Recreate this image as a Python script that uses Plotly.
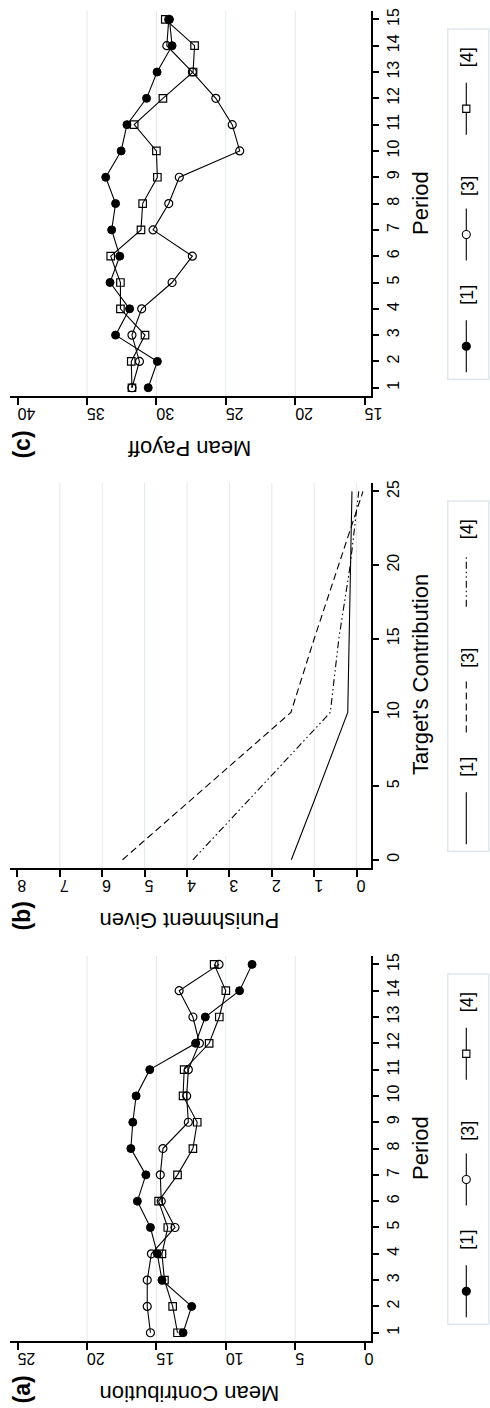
import plotly.graph_objects as go

# ---------------- data ----------------
periods = list(range(1, 16))

# Panel (a): Mean Contribution by period
contrib_1 = [13.08, 12.46, 14.60, 14.93, 15.43, 16.37, 15.76, 16.84, 16.70, 16.46, 15.48, 12.18, 11.48, 9.01, 8.11]
contrib_3 = [15.43, 15.66, 15.66, 15.36, 13.66, 14.65, 14.72, 14.53, 12.70, 12.82, 12.70, 11.90, 12.37, 13.36, 10.49]
contrib_4 = [13.48, 13.83, 14.42, 14.60, 14.18, 14.84, 13.48, 12.37, 12.06, 13.08, 13.00, 11.20, 10.47, 10.00, 10.84]

# Panel (b): Punishment Given vs Target's Contribution
target_1 = [0, 4, 10, 15, 20, 25]
punish_1 = [1.54, 1.00, 0.21, 0.18, 0.15, 0.11]
target_3 = [0, 10, 15, 20, 25]
punish_3 = [5.52, 1.55, 1.00, 0.42, -0.15]
target_4 = [0, 10, 15, 20, 25]
punish_4 = [3.86, 0.62, 0.42, 0.15, -0.05]

# Panel (c): Mean Payoff by period
payoff_1 = [30.59, 29.93, 32.94, 31.93, 33.34, 32.64, 33.22, 32.94, 33.65, 32.54, 32.12, 30.71, 29.95, 28.87, 29.06]
payoff_3 = [31.76, 31.22, 31.76, 31.06, 28.87, 27.41, 30.24, 29.11, 28.35, 24.00, 24.54, 25.72, 27.41, 29.25, 29.11]
payoff_4 = [31.76, 31.81, 30.82, 32.59, 32.59, 33.29, 31.11, 30.99, 29.93, 30.00, 31.60, 29.53, 27.36, 27.25, 29.36]

series_names = ["[1]", "[3]", "[4]"]
contrib_ticks = [0, 5, 10, 15, 20, 25]
punish_ticks = [0, 1, 2, 3, 4, 5, 6, 7, 8]
payoff_ticks = [15, 20, 25, 30, 35, 40]
target_ticks = [0, 5, 10, 15, 20, 25]

# ---------------- layout helpers ----------------
W, H = 490, 1408
FONT = "Liberation Sans, Arial, Helvetica, sans-serif"
GRID = "#dfe8ee"


def X(px):
    return px / W


def Y(py):
    return 1 - py / H


fig = go.Figure()

# panel: (axis suffix, pixel offset, label, x title, y title, x range, y range, x ticks, y ticks, grid values, kind)
panels = [
    ("", 0, "(c)", "Mean Payoff", "Period", [40.56, 14.51], [0.68, 15.32], payoff_ticks, periods, [20, 25, 30, 35], "marker"),
    ("2", 473, "(b)", "Punishment Given", "Target's Contribution", [8.18, -0.35], [-0.57, 25.57], punish_ticks, target_ticks, [0, 1, 2, 3, 4, 5, 6, 7], "line"),
    ("3", 947, "(a)", "Mean Contribution", "Period", [25.56, -0.49], [0.68, 15.32], contrib_ticks, periods, [5, 10, 15, 20], "marker"),
]

marker_styles = [
    dict(symbol="circle", size=8, color="black", line=dict(color="black", width=1)),
    dict(symbol="circle-open", size=8, color="black", line=dict(color="black", width=1.2)),
    dict(symbol="square-open", size=7.5, color="black", line=dict(color="black", width=1.2)),
]
dash_styles = ["solid", "7px,4px", "7px,3px,1.5px,3px,1.5px,3px"]

panel_data = {
    "(c)": [(periods, payoff_1), (periods, payoff_3), (periods, payoff_4)],
    "(b)": [(target_1, punish_1), (target_3, punish_3), (target_4, punish_4)],
    "(a)": [(periods, contrib_1), (periods, contrib_3), (periods, contrib_4)],
}

shapes = []
annotations = []
layout_axes = {}

for suf, off, label, xtitle, ytitle, xr, yr, xt, yt, gridvals, kind in panels:
    xa = "x" + suf
    ya = "y" + suf
    dom_y = [Y(off + 394), Y(off + 8)]
    layout_axes["xaxis" + suf] = dict(
        domain=[X(10), X(380)], range=xr, anchor=ya,
        tickvals=xt, ticktext=[str(v) for v in xt], tickangle=180,
        showline=True, linecolor="black", linewidth=2,
        ticks="outside", ticklen=7, tickwidth=1.5, tickcolor="black",
        showgrid=False, zeroline=False,
        tickfont=dict(family=FONT, size=16, color="black"),
    )
    layout_axes["yaxis" + suf] = dict(
        domain=dom_y, range=yr, anchor=xa, side="right",
        tickvals=yt, ticktext=[str(v) for v in yt], tickangle=-90,
        showline=True, linecolor="black", linewidth=2,
        ticks="outside", ticklen=6, tickwidth=1.5, tickcolor="black",
        showgrid=False, zeroline=False,
        tickfont=dict(family=FONT, size=16, color="black"),
    )
    # gridlines
    for g in gridvals:
        shapes.append(dict(type="line", xref=xa, yref=ya + " domain", x0=g, x1=g, y0=0, y1=1,
                           line=dict(color=GRID, width=1), layer="below"))
    # data
    for i, (xs, ys) in enumerate(panel_data[label]):
        if kind == "marker":
            fig.add_trace(go.Scatter(
                x=ys, y=xs, xaxis=xa, yaxis=ya, mode="lines+markers",
                line=dict(color="black", width=1.1),
                marker=marker_styles[i], name=series_names[i], showlegend=False,
            ))
        else:
            fig.add_trace(go.Scatter(
                x=ys, y=xs, xaxis=xa, yaxis=ya, mode="lines",
                line=dict(color="black", width=1.1, dash=dash_styles[i]),
                name=series_names[i], showlegend=False,
            ))
    # titles
    annotations.append(dict(text=xtitle, x=X(194), y=Y(off + 447), xref="paper", yref="paper",
                            showarrow=False, textangle=180, xanchor="center", yanchor="middle",
                            font=dict(family=FONT, size=22, color="black")))
    annotations.append(dict(text=ytitle, x=X(430), y=Y(off + 200), xref="paper", yref="paper",
                            showarrow=False, textangle=-90, xanchor="center", yanchor="middle",
                            font=dict(family=FONT, size=22, color="black")))
    annotations.append(dict(text="<b>" + label + "</b>", x=X(23), y=Y(off + 442), xref="paper", yref="paper",
                            showarrow=False, textangle=-90, xanchor="center", yanchor="middle",
                            font=dict(family=FONT, size=23, color="black")))
    # legend box
    shapes.append(dict(type="rect", xref="paper", yref="paper", x0=X(458), x1=X(500),
                       y0=Y(off + 377), y1=Y(off + 26), line=dict(color=GRID, width=1.5),
                       fillcolor="white", layer="below"))
    key_pos = [(344, 292), (232, 183), (106, 54)]
    for i, (mpos, tpos) in enumerate(key_pos):
        shapes.append(dict(type="line", xref="paper", yref="paper", x0=X(477), x1=X(477),
                           y0=Y(off + mpos + 26), y1=Y(off + mpos - 26),
                           line=dict(color="black", width=1.1,
                                     dash=(dash_styles[i] if kind == "line" else "solid"))))
        if kind == "marker":
            r = 4 if i < 2 else 3.6
            shapes.append(dict(type="circle" if i < 2 else "rect", xref="paper", yref="paper",
                               xsizemode="pixel", ysizemode="pixel",
                               xanchor=X(477), yanchor=Y(off + mpos),
                               x0=-r, x1=r, y0=-r, y1=r,
                               fillcolor="black" if i == 0 else "white",
                               line=dict(color="black", width=1.1)))
        annotations.append(dict(text=series_names[i], x=X(478), y=Y(off + tpos), xref="paper", yref="paper",
                                showarrow=False, textangle=-90, xanchor="center", yanchor="middle",
                                font=dict(family=FONT, size=18, color="black")))

fig.update_layout(
    width=W, height=H,
    margin=dict(l=0, r=0, t=0, b=0),
    paper_bgcolor="white", plot_bgcolor="rgba(0,0,0,0)",
    showlegend=False,
    shapes=shapes, annotations=annotations,
    **layout_axes,
)

fig.write_html("out.html")
